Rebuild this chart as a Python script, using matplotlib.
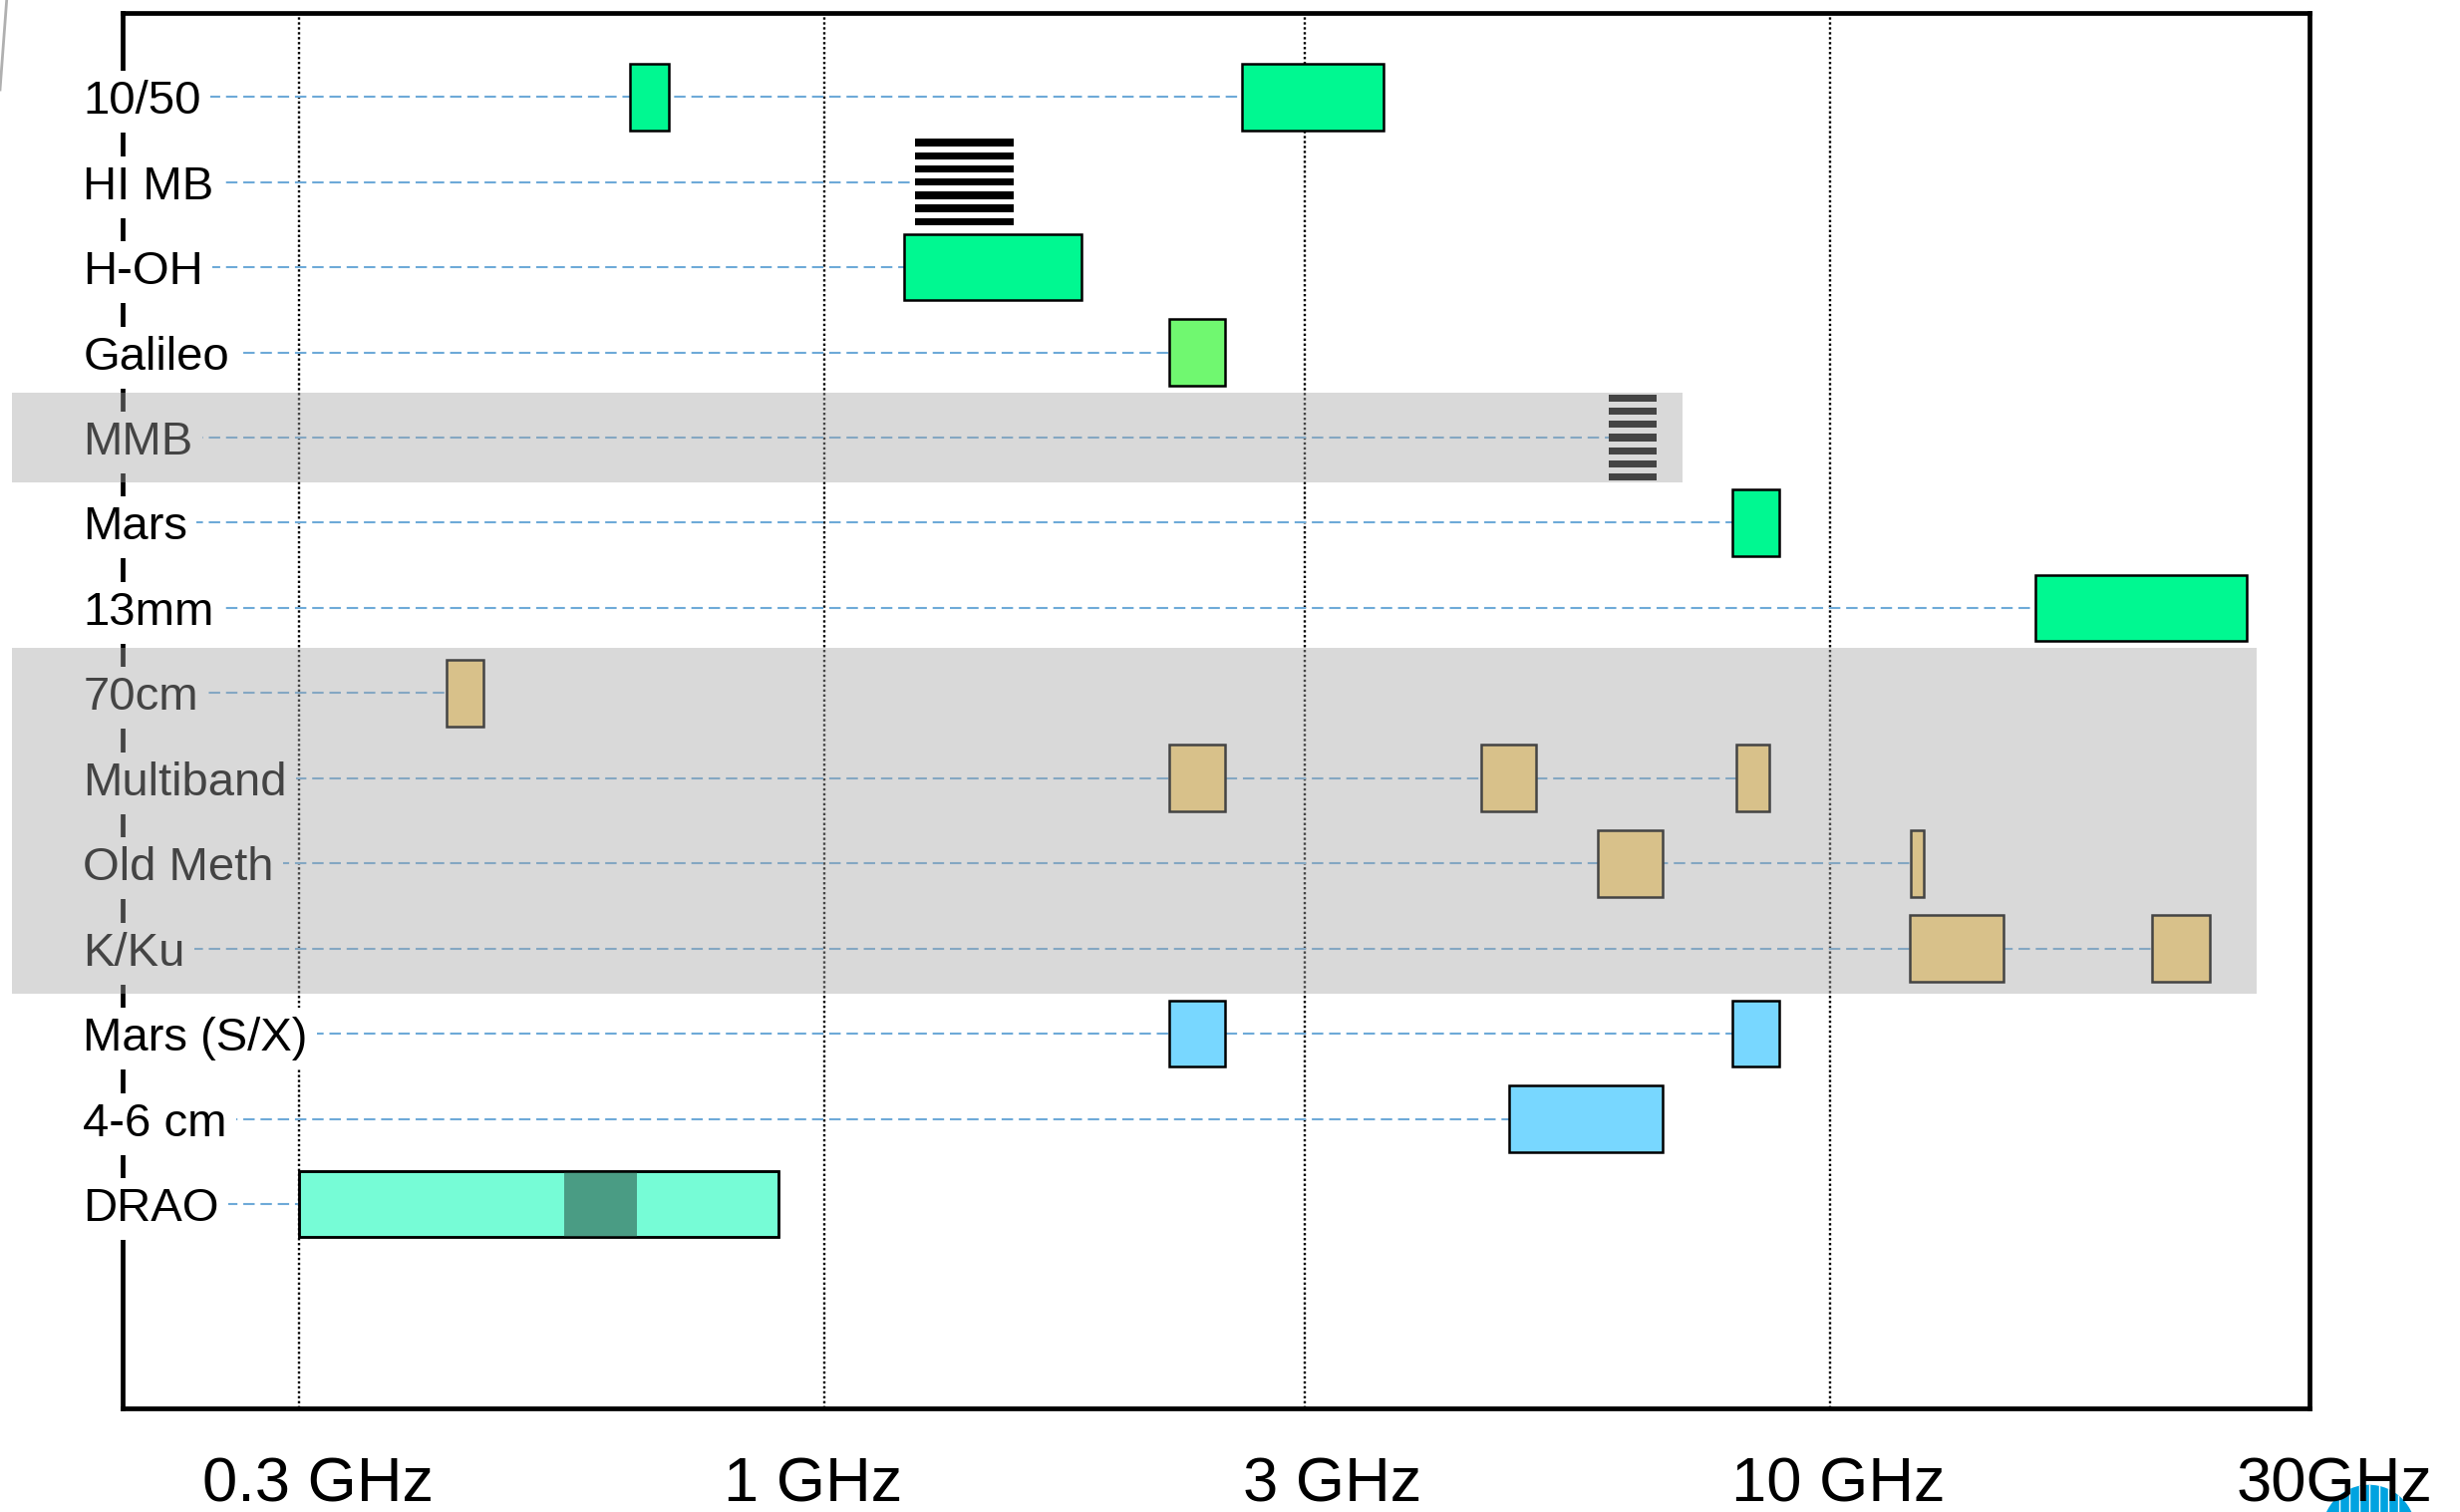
"""
Receptores / bandas de frequência em escala log, uma linha por sistema.
Linhas em cinza marcam sistemas fora de uso (sobreposição semitransparente).
"""

import numpy as np
import matplotlib
matplotlib.use("Agg")
import matplotlib.pyplot as plt
from matplotlib.patches import Rectangle, Ellipse
from matplotlib.lines import Line2D
from matplotlib.ticker import NullLocator
from matplotlib.transforms import ScaledTranslation

plt.rcParams["font.family"] = ["Liberation Sans", "DejaVu Sans"]

ROWS = ["10/50", "HI MB", "H-OH", "Galileo", "MMB", "Mars", "13mm",
        "70cm", "Multiband", "Old Meth", "K/Ku", "Mars (S/X)", "4-6 cm", "DRAO"]

# bandas em GHz: linha, início, fim, tipo
BAND_ROW  = [0, 0, 1, 2, 3, 4, 5, 6, 7, 8, 8, 8, 9, 9, 10, 10, 11, 11, 12, 13]
BAND_LO   = [0.64, 2.60, 1.23, 1.20, 2.20, 6.03, 8.00, 16.0, 0.420, 2.20, 4.50, 8.07,
             5.88, 12.04, 12.0, 20.9, 2.20, 8.00, 4.80, 0.30]
BAND_HI   = [0.70, 3.60, 1.54, 1.80, 2.50, 6.72, 8.90, 26.0, 0.457, 2.50, 5.10, 8.70,
             6.82, 12.40, 14.9, 23.9, 2.50, 8.90, 6.82, 0.90]
BAND_KIND = ["green", "green", "stripes", "green", "lime", "stripes", "green", "green",
             "tan", "tan", "tan", "tan", "tan", "tan", "tan", "tan",
             "blue", "blue", "blue", "aqua"]

DRAO_ROW  = 13
DRAO_CORE = (0.55, 0.65)

# faixas acinzentadas: primeira linha, última linha, limite direito (GHz)
SHADE_FIRST = [4, 7]
SHADE_LAST  = [4, 10]
SHADE_RIGHT = [7.14, 26.6]

TICKS       = [0.3, 1, 3, 10, 30]
TICK_LABELS = ["0.3 GHz", "1 GHz", "3 GHz", "10 GHz", "30GHz"]
XLIM        = (0.2, 30)

COLORS = {
    "green": "#00F891",
    "lime":  "#70F870",
    "tan":   "#FDD678",
    "blue":  "#78D7FF",
    "aqua":  "#76FCD6",
}
CORE_COLOR = "#4A9C84"
DASH_COLOR = "#6EAAD8"

BOX_H    = 0.78
N_STRIPE = 7
PITCH    = 0.155
STRIPE_H = 0.085
TICK_DX  = [0.19, -0.12, 0.28, 0.08, 0.25]   # deslocamento dos rótulos (pol.)


def main():
    fig = plt.figure(figsize=(24.68, 15.17), dpi=100)
    ax = fig.add_axes([0.0497, 0.0685, 0.8891, 0.9232])
    ax.set_xscale("log")
    ax.set_xlim(*XLIM)
    ax.set_ylim(15.4, -0.99)

    for s in ax.spines.values():
        s.set_linewidth(3.4)
        s.set_color("black")

    # grade vertical pontilhada
    for f in TICKS[:-1]:
        ax.axvline(f, color="black", lw=1.7, ls=(0, (1, 1.1)), zorder=1)

    # linhas tracejadas até o início da última banda de cada linha
    for i in range(len(ROWS)):
        starts = [lo for r, lo in zip(BAND_ROW, BAND_LO) if r == i]
        ax.plot([XLIM[0], max(starts)], [i, i], color=DASH_COLOR, lw=1.5,
                ls=(0, (5.5, 2.8)), zorder=2)

    # bandas
    for r, lo, hi, kind in zip(BAND_ROW, BAND_LO, BAND_HI, BAND_KIND):
        if kind == "stripes":
            offs = (np.arange(N_STRIPE) - (N_STRIPE - 1) / 2) * PITCH
            for o in offs:
                ax.add_patch(Rectangle((lo, r + o - STRIPE_H / 2), hi - lo, STRIPE_H,
                                       facecolor="black", edgecolor="none", zorder=3))
            continue
        ax.add_patch(Rectangle((lo, r - BOX_H / 2), hi - lo, BOX_H,
                               facecolor=COLORS[kind], edgecolor="black",
                               lw=1.8, zorder=3))

    # núcleo escuro do DRAO, com contorno redesenhado por cima
    c0, c1 = DRAO_CORE
    ax.add_patch(Rectangle((c0, DRAO_ROW - BOX_H / 2), c1 - c0, BOX_H,
                           facecolor=CORE_COLOR, edgecolor="none", zorder=3.1))
    drao = [(lo, hi) for r, lo, hi in zip(BAND_ROW, BAND_LO, BAND_HI) if r == DRAO_ROW][0]
    ax.add_patch(Rectangle((drao[0], DRAO_ROW - BOX_H / 2), drao[1] - drao[0], BOX_H,
                           fill=False, edgecolor="black", lw=1.8, zorder=3.2))

    # rótulos das linhas (fundo branco cobre o eixo esquerdo)
    ytrans = ax.get_yaxis_transform()
    for i, name in enumerate(ROWS):
        ax.text(-0.0179, i, name, transform=ytrans, ha="left", va="center_baseline",
                fontsize=34, color="black", zorder=4,
                bbox=dict(boxstyle="square,pad=0.19", facecolor="white",
                          edgecolor="none"))

    # sobreposição cinza semitransparente
    left = XLIM[0] * 10 ** (-0.11)
    for first, last, right in zip(SHADE_FIRST, SHADE_LAST, SHADE_RIGHT):
        ax.add_patch(Rectangle((left, first - 0.53), right - left, last - first + 1.06,
                               facecolor="#A4A4A4", edgecolor="none", alpha=0.416,
                               zorder=6, clip_on=False))

    ax.set_xticks(TICKS, TICK_LABELS)
    ax.xaxis.set_minor_locator(NullLocator())
    ax.tick_params(axis="x", length=0, pad=34, labelsize=45.5)
    ax.set_yticks([])
    for lbl, dx in zip(ax.get_xticklabels(), TICK_DX):
        lbl.set_transform(lbl.get_transform() + ScaledTranslation(dx, 0, fig.dpi_scale_trans))

    # logotipo parcialmente visível no canto inferior direito
    logo = Ellipse((0.963, -0.013), 94 / 2468, 94 / 1517, transform=fig.transFigure,
                   facecolor="#00A3E0", edgecolor="none", zorder=-1)
    fig.add_artist(logo)
    for dx in np.linspace(-0.012, 0.012, 7):
        ln = Line2D([0.963 + dx, 0.963 + dx], [-0.05, 0.03], transform=fig.transFigure,
                    color="white", lw=1.0, zorder=-0.5)
        ln.set_clip_path(logo)
        fig.add_artist(ln)

    # traço cinza no canto superior esquerdo
    fig.add_artist(Line2D([6.7 / 2468, 0.0], [1.0, 1 - 90 / 1517],
                          transform=fig.transFigure, color="#B0B0B0", lw=2))

    fig.savefig("out.png", dpi=100)
    plt.close(fig)


if __name__ == "__main__":
    main()
